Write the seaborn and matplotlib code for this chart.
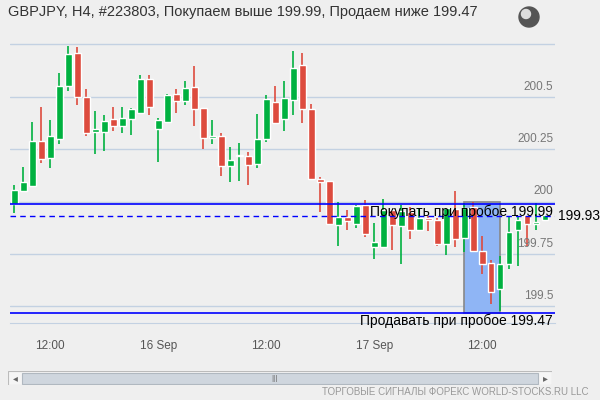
import numpy as np
import pandas as pd
import seaborn as sns
import matplotlib
matplotlib.use("Agg")
import matplotlib.pyplot as plt
from matplotlib.patches import Rectangle

sns.set_style("white")
plt.rcParams['font.family'] = ['Liberation Sans', 'DejaVu Sans']

# OHLC (H4 candles)
opens = [199.987, 200.048, 200.076, 200.289, 200.210, 200.300, 200.553, 200.709, 200.499, 200.334,
         200.334, 200.394, 200.363, 200.396, 200.425, 200.585, 200.348, 200.382, 200.514, 200.482,
         200.547, 200.447, 200.305, 200.313, 200.172, 200.218, 200.218, 200.181, 200.300, 200.475,
         200.396, 200.487, 200.652, 200.442, 200.108, 200.099, 199.890, 199.927, 199.895, 199.984,
         199.781, 199.785, 199.960, 199.881, 199.951, 199.866, 199.922, 199.913, 199.795, 199.965,
         199.828, 199.975, 199.766, 199.706, 199.580, 199.704, 199.865, 199.935, 199.892, 199.910]
closes = [200.056, 200.094, 200.289, 200.205, 200.313, 200.552, 200.704, 200.501, 200.329, 200.347,
          200.385, 200.363, 200.399, 200.442, 200.585, 200.453, 200.390, 200.509, 200.482, 200.542,
          200.444, 200.305, 200.313, 200.172, 200.199, 200.223, 200.176, 200.299, 200.490, 200.377,
          200.494, 200.638, 200.444, 200.107, 200.095, 199.895, 199.927, 199.909, 199.979, 199.847,
          199.808, 199.960, 199.886, 199.955, 199.862, 199.922, 199.910, 199.795, 199.970, 199.819,
          199.970, 199.762, 199.700, 199.566, 199.701, 199.855, 199.911, 199.892, 199.901, 199.934]
highs = [200.080, 200.165, 200.380, 200.452, 200.390, 200.614, 200.743, 200.738, 200.537, 200.432,
         200.413, 200.452, 200.452, 200.447, 200.604, 200.604, 200.399, 200.514, 200.537, 200.576,
         200.647, 200.447, 200.390, 200.328, 200.261, 200.280, 200.237, 200.418, 200.509, 200.552,
         200.576, 200.719, 200.709, 200.466, 200.118, 200.099, 199.998, 199.960, 199.984, 200.008,
         199.898, 200.013, 199.960, 199.984, 199.975, 199.970, 199.932, 199.922, 199.970, 200.051,
         199.992, 199.997, 199.836, 199.722, 199.738, 199.924, 199.929, 199.935, 199.992, 199.938]
lows = [199.943, 200.048, 200.072, 200.186, 200.162, 200.277, 200.529, 200.463, 200.315, 200.229,
        200.243, 200.339, 200.329, 200.320, 200.425, 200.415, 200.191, 200.382, 200.425, 200.463,
        200.363, 200.253, 200.277, 200.124, 200.095, 200.100, 200.081, 200.162, 200.286, 200.377,
        200.339, 200.415, 200.377, 200.107, 199.948, 199.886, 199.790, 199.862, 199.876, 199.833,
        199.728, 199.781, 199.771, 199.704, 199.819, 199.866, 199.857, 199.789, 199.747, 199.781,
        199.757, 199.762, 199.652, 199.509, 199.475, 199.680, 199.690, 199.789, 199.865, 199.905]

buy_level = 199.99
sell_level = 199.47
last_price = 199.93
grid_levels = [200.75, 200.5, 200.25, 200.0, 199.75, 199.5]
label_levels = [200.5, 200.25, 200.0, 199.75, 199.5]
x_tick_pos = [4, 16, 28, 40, 52]
x_tick_labels = ["12:00", "16 Sep", "12:00", "17 Sep", "12:00"]

df = pd.DataFrame({"open": opens, "close": closes, "high": highs, "low": lows})
df["idx"] = np.arange(len(df))
df["up"] = df["close"] >= df["open"]

green = "#00b140"
red = "#dd4b3e"
grid = "#c3d1e2"

fig = plt.figure(figsize=(6, 4), dpi=100, facecolor="#efefef")
ax = fig.add_axes([10 / 600, 77 / 400, 545 / 600, 303 / 400])
ax.set_facecolor("#efefef")

ax.set_xlim(-0.48, 60.1)
ax.set_ylim(199.42, 200.867)

for y in grid_levels:
    ax.axhline(y, color=grid, lw=1, zorder=0)
for y in label_levels:
    ax.text(59.9, y + 0.02, f"{y:g}", ha="right", va="bottom", fontsize=8.5, color="#777777")

# highlighted breakout zone
ax.add_patch(Rectangle((49.97, sell_level), 4.0, buy_level - sell_level + 0.01,
                       facecolor="#8fb5f5", edgecolor="#888888", lw=1.2, zorder=1))

colors = np.where(df["up"], green, red)
ax.vlines(df["idx"], df["low"], df["high"], colors=colors, lw=1.2, zorder=2)
body_lo = np.minimum(df["open"], df["close"])
body_h = np.maximum(np.abs(df["close"] - df["open"]), 0.004)
ax.bar(df["idx"], body_h, bottom=body_lo, width=0.75, color=colors, zorder=3)

ax.axhline(buy_level, color="blue", lw=1.2, zorder=4)
ax.axhline(sell_level, color="blue", lw=1.2, zorder=4)
ax.axhline(last_price, color="blue", lw=1, ls=(0, (4, 3)), zorder=4)

ax.text(59.9, buy_level - 0.005, "Покупать при пробое 199.99", ha="right", va="top",
        fontsize=10, color="black", zorder=5)
ax.text(59.9, sell_level - 0.005, "Продавать при пробое 199.47", ha="right", va="top",
        fontsize=10, color="black", zorder=5)
ax.text(1.005, (last_price - 199.42) / (200.867 - 199.42), "199.93", transform=ax.transAxes,
        ha="left", va="center", fontsize=10, color="black")

for s in ["top", "right", "left"]:
    ax.spines[s].set_visible(False)
ax.spines["bottom"].set_color(grid)
ax.set_yticks([])
ax.set_xticks(x_tick_pos)
ax.set_xticklabels(x_tick_labels, fontsize=8.5, color="#555555")
ax.tick_params(axis="x", length=7, color=grid, pad=5)

fig.text(8 / 600, 1 - 12 / 400, "GBPJPY, H4, #223803, Покупаем выше 199.99, Продаем ниже 199.47",
         ha="left", va="center", fontsize=10.5, color="#333333")
# globe icon
gax = fig.add_axes([518 / 600, 1 - 28 / 400, 22 / 600, 22 / 400])
gax.set_aspect("equal")
gax.add_patch(plt.Circle((0, 0), 1, color="#555555"))
gax.add_patch(plt.Circle((-0.3, 0.3), 0.45, color="#dddddd"))
gax.set_xlim(-1.1, 1.1)
gax.set_ylim(-1.1, 1.1)
gax.axis("off")

# scrollbar
sax = fig.add_axes([8 / 600, 1 - 385 / 400, 544 / 600, 14 / 400])
sax.set_xlim(0, 544)
sax.set_ylim(0, 14)
sax.axis("off")
sax.add_patch(Rectangle((0, 0), 544, 14, facecolor="#f5f5f5", edgecolor="#bbbbbb", lw=0.8))
sax.add_patch(Rectangle((14, 1.5), 516, 11, facecolor="#cfd6de", edgecolor="#b0b8c0", lw=0.8))
sax.text(7, 7, "◂", ha="center", va="center", fontsize=7, color="#666666")
sax.text(537, 7, "▸", ha="center", va="center", fontsize=7, color="#666666")
sax.text(266, 7, "|||", ha="center", va="center", fontsize=6, color="#666666")

fig.text(588 / 600, 1 - 392 / 400, "ТОРГОВЫЕ СИГНАЛЫ ФОРЕКС WORLD-STOCKS.RU LLC",
         ha="right", va="center", fontsize=7, color="#999999")

fig.savefig("out.png", dpi=100, facecolor=fig.get_facecolor())
